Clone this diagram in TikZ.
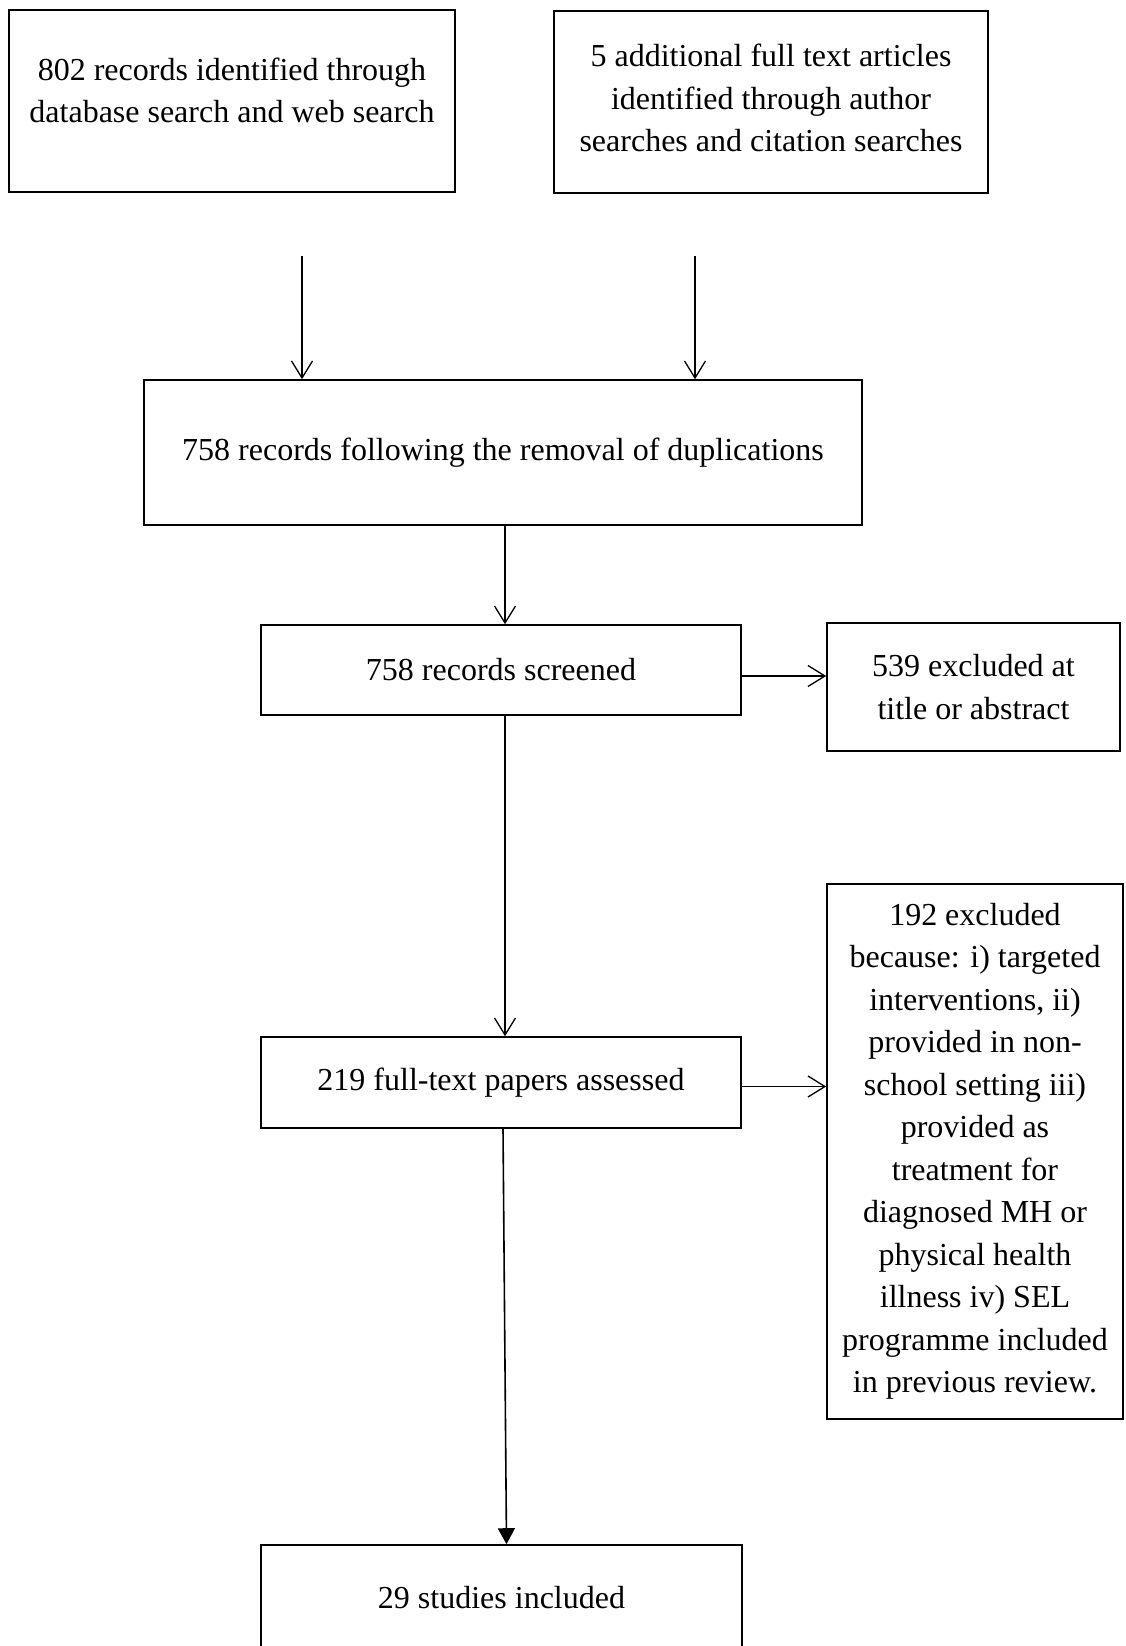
\documentclass[tikz,border=0pt]{standalone}
\usepackage{fontspec}
\setmainfont{Liberation Serif}
\usepackage{tikz}
\usetikzlibrary{arrows.meta}

\begin{document}
\begin{tikzpicture}[x=1pt, y=-1pt,
    box/.style={draw, line width=1.6pt, rectangle, inner sep=0pt, align=center,
      font=\fontsize{32}{42.5}\selectfont},
    arr/.style={line width=1.3pt, -{Straight Barb[length=17pt, width=21pt, line width=1.3pt]}},
    arrfill/.style={line width=1.6pt, -{Triangle[length=16pt, width=17pt]}}]
    \useasboundingbox (0, 0) rectangle (1125, 1646);

    % sources
    \node[box, minimum width=446pt, minimum height=182pt](srch) at (232, 101)
      {802 records identified through\\database search and web search\\[-21pt]~};
    \node[box, minimum width=434pt, minimum height=182pt](extra) at (771, 102)
      {5 additional full text articles\\identified through author\\searches and citation searches\\[-34pt]~};

    % after duplicates
    \node[box, minimum width=718pt, minimum height=145pt](dedup) at (503, 452.5)
      {758 records following the removal of duplications};
    \coordinate (srchend) at (302, 256);
    \coordinate (extraend) at (695, 256);
    \draw [arr] (srchend) -- (srchend |- dedup.north);
    \draw [arr] (extraend) -- (extraend |- dedup.north);

    % screened
    \node[box, minimum width=480pt, minimum height=90pt](screen) at (501, 670)
      {758 records screened};
    \node[box, minimum width=293pt, minimum height=128pt](exclA) at (973.5, 687)
      {539 excluded at\\title or abstract};
    \draw [arr] ([xshift=2pt]dedup.south) -- ([xshift=4pt]screen.north);
    \draw [arr] ([yshift=-6pt]screen.east) -- ([yshift=-6pt]screen.east -| exclA.west);

    % full text
    \node[box, minimum width=480pt, minimum height=91pt](fulltxt) at (501, 1082.5)
      {219 full-text papers assessed};
    \node[box, minimum width=296pt, minimum height=535pt](exclB) at (975, 1151.5)
      {192 excluded\\because: i) targeted\\interventions, ii)\\provided in non-\\school setting iii)\\provided as\\treatment for\\diagnosed MH or\\physical health\\illness iv) SEL\\programme included\\in previous review.};
    \draw [arr] ([xshift=4pt]screen.south) -- ([xshift=4pt]fulltxt.north);
    \draw [arr] ([yshift=-4pt]fulltxt.east) -- ([yshift=-4pt]fulltxt.east -| exclB.west);

    % included
    \node[box, minimum width=481pt, minimum height=105pt](incl) at (501.5, 1597.5)
      {29 studies included};
    \draw [arrfill] ([xshift=2pt]fulltxt.south) -- ([xshift=5pt]incl.north);
  \end{tikzpicture}
\end{document}
